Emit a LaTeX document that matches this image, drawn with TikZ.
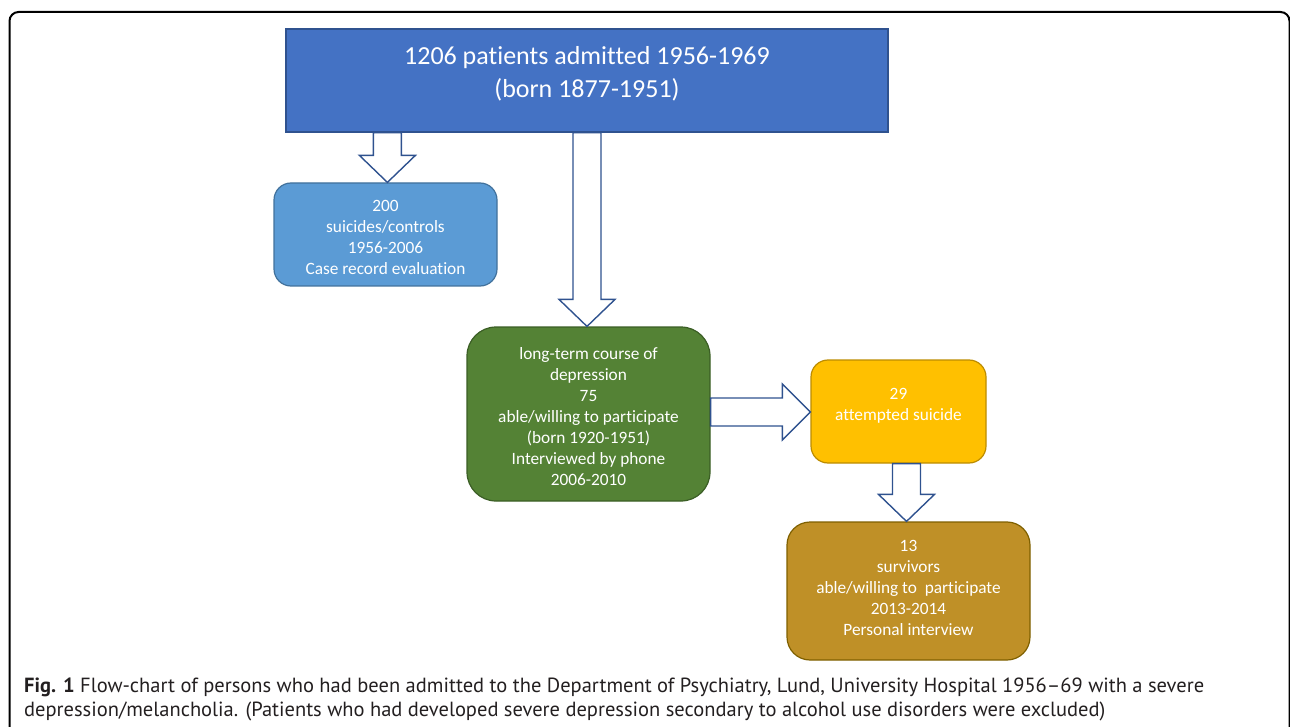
\documentclass[tikz,border=0pt]{standalone}
\usepackage{fontspec}
\setmainfont[Ligatures={TeX,NoCommon}]{Carlito}
\newfontfamily\capfont{PT Sans}
\usetikzlibrary{calc}
\definecolor{topfill}{HTML}{4472C4}
\definecolor{topdraw}{HTML}{2F528F}
\definecolor{ltfill}{HTML}{5B9BD5}
\definecolor{ltdraw}{HTML}{41719C}
\definecolor{grfill}{HTML}{548235}
\definecolor{grdraw}{HTML}{3B5E25}
\definecolor{yefill}{HTML}{FFC000}
\definecolor{yedraw}{HTML}{BC8C00}
\definecolor{brfill}{HTML}{BF9027}
\definecolor{brdraw}{HTML}{7F6000}
\definecolor{arrdraw}{HTML}{2F528F}
\definecolor{captext}{HTML}{231F20}
\newcommand{\vblockarrow}[2]{%
  \draw[blockarrow] let \p1=(#1), \p2=(#2) in
    (\x1-14pt,\y1) -- (\x1-14pt,\y2+27pt) -- (\x1-28pt,\y2+27pt) -- (\x1,\y2)
    -- (\x1+28pt,\y2+27pt) -- (\x1+14pt,\y2+27pt) -- (\x1+14pt,\y1) -- cycle;}
\newcommand{\hblockarrow}[2]{%
  \draw[blockarrow] let \p1=(#1), \p2=(#2) in
    (\x1,\y1+14pt) -- (\x2-28pt,\y1+14pt) -- (\x2-28pt,\y1+28pt) -- (\x2,\y1)
    -- (\x2-28pt,\y1-28pt) -- (\x2-28pt,\y1-14pt) -- (\x1,\y1-14pt) -- cycle;}
\begin{document}
\begin{tikzpicture}[x=1pt,y=-1pt,
  box/.style={draw, line width=1.2pt, minimum width=#1, inner sep=0pt},
  boxtext/.style={text=white, align=center, font=\fontsize{17.3}{21}\selectfont, inner sep=0pt},
  blockarrow/.style={draw=arrdraw, fill=white, line width=1.4pt, line join=miter},
  captxt/.style={anchor=base west, inner sep=0pt, text=captext, font=\capfont\fontsize{20.5}{24}\selectfont}]
\useasboundingbox (0,0) rectangle (1290,727);
% frame
\draw[line width=2pt, rounded corners=9pt] (9.5,760) -- (9.5,12) -- (1289.5,12) -- (1289.5,760);
% boxes
\node[box=602pt, minimum height=103pt, fill=topfill, draw=topdraw] (top) at (587,80.5) {};
\node[box=223pt, minimum height=103pt, fill=ltfill, draw=ltdraw, rounded corners=17pt] (ctrl) at (385.5,234.5) {};
\node[box=243pt, minimum height=174pt, fill=grfill, draw=grdraw, rounded corners=29pt] (depr) at (588.5,414) {};
\node[box=175pt, minimum height=103pt, fill=yefill, draw=yedraw, rounded corners=17pt] (att) at (898.5,411.5) {};
\node[box=243pt, minimum height=138pt, fill=brfill, draw=brdraw, rounded corners=23pt] (surv) at (908.5,591) {};
% texts
\node[boxtext, font=\fontsize{26}{33}\selectfont] (toptext) at ($(top.center)+(0,-7)$) {1206 patients admitted 1956-1969\\(born 1877-1951)};
\node[boxtext] (ctrltext) at ($(ctrl.center)+(0,3)$) {200\\suicides/controls\\1956-2006\\Case record evaluation};
\node[boxtext] (deprtext) at ($(depr.center)+(0,2.5)$) {long-term course of\\depression\\75\\able/willing to participate\\(born 1920-1951)\\Interviewed by phone\\2006-2010};
\node[boxtext] (atttext) at ($(att.center)+(0,-6)$) {29\\attempted suicide};
\node[boxtext] (survtext) at ($(surv.center)+(0,-3)$) {13\\survivors\\able/willing to\ \ participate\\2013-2014\\Personal interview};
% arrows
\coordinate (a1) at ($(top.south west)+(102,0)$);
\vblockarrow{a1}{ctrl.north}
\vblockarrow{top.south}{depr.north}
\coordinate (a3) at ($(depr.east)+(0,-2)$);
\hblockarrow{a3}{att.west}
\coordinate (a4) at ($(att.south)+(8,0)$);
\vblockarrow{a4}{surv.north}
% caption
\node[captxt] (cap1) at (24,692) {\textbf{Fig. 1} Flow-chart of persons who had been admitted to the Department of Psychiatry, Lund, University Hospital 1956–69 with a severe};
\node[captxt] (cap2) at (24,716) {depression/melancholia. (Patients who had developed severe depression secondary to alcohol use disorders were excluded)};
\end{tikzpicture}
\end{document}
